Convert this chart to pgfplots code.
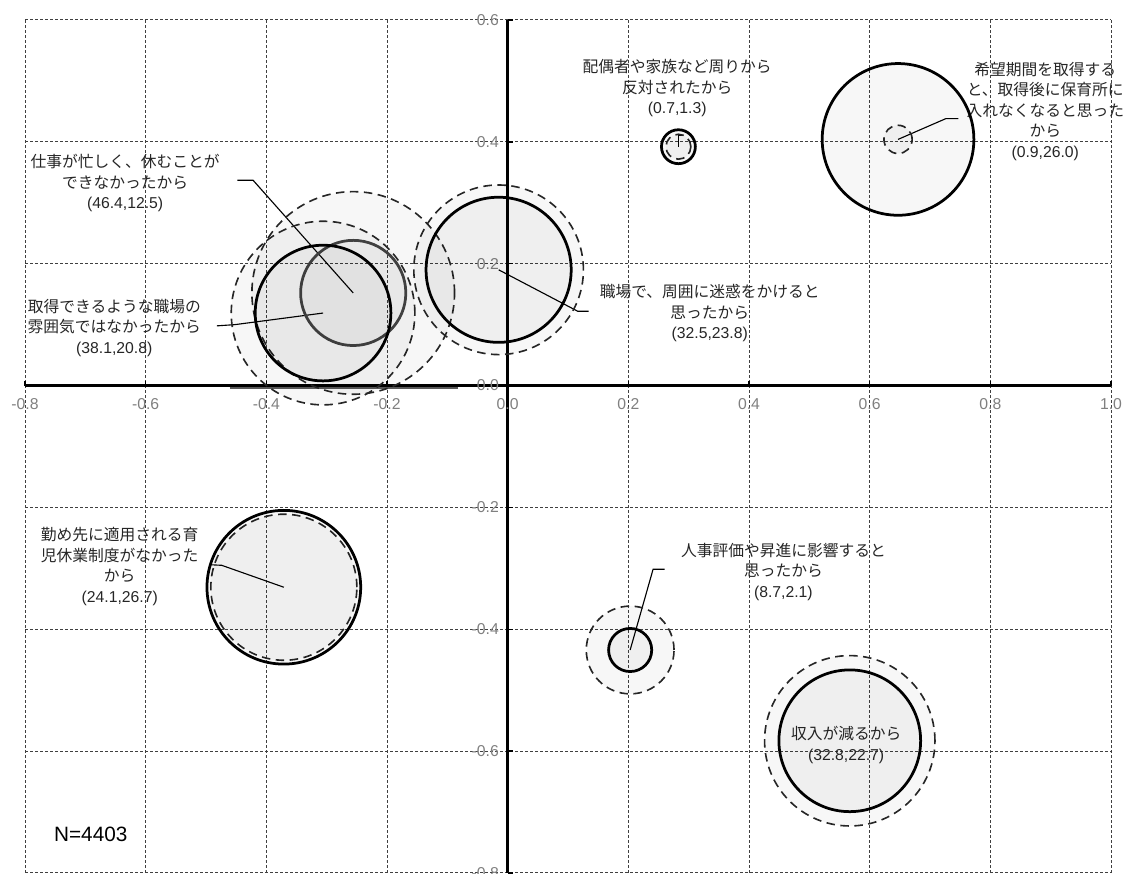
\documentclass[border=0pt]{standalone}
\usepackage{pgfplots}
\usepackage{pgfplotstable}
\pgfplotsset{compat=1.18}
\usepackage{fontspec}
\setmainfont{Liberation Sans}
\newfontfamily\jp{Noto Sans CJK JP}

% solid circle: second value, dashed circle: first value
\pgfplotstableread{
x      y      v
-0.306 0.119  20.8
-0.015 0.190  23.8
0.283  0.392  1.3
0.647  0.404  26.0
-0.371 -0.331 26.7
0.203  -0.434 2.1
0.567  -0.583 22.7
}\solidtab
\pgfplotstableread{
x      y      v
-0.256 0.152  12.5
}\solidgrey
\pgfplotstableread{
x      y      v
-0.256 0.152  46.4
-0.306 0.119  38.1
-0.015 0.190  32.5
0.283  0.392  0.7
0.647  0.404  0.9
-0.371 -0.331 24.1
0.203  -0.434 8.7
0.567  -0.583 32.8
}\dashtab

\pgfplotsset{
  bubble/.style={
    scatter, only marks, mark=*,
    visualization depends on={\thisrow{v} \as \vv},
    scatter/@pre marker code/.code={%
      \pgfmathsetmacro\rr{5.95*sqrt(\vv)}%
      \scope[mark size=\rr pt, draw=#1, fill=black, fill opacity=0.03]},
    scatter/@post marker code/.code={\endscope},
  },
}
\tikzset{
  lbl/.style={align=center, inner sep=0pt, text=black!85,
    font=\fontsize{6.3}{8.2}\selectfont},
}

\begin{document}
\begin{tikzpicture}
\begin{axis}[
  name=ax,
  scale only axis, width=434.4pt, height=341.2pt,
  xmin=-0.8, xmax=1.0, ymin=-0.8, ymax=0.6,
  axis lines=middle,
  axis line style={-, line width=1pt, black},
  xtick={-0.8,-0.6,-0.4,-0.2,0,0.2,0.4,0.6,0.8,1.0},
  ytick={-0.8,-0.6,-0.4,-0.2,0,0.2,0.4,0.6},
  grid=major,
  grid style={black!75, line width=0.4pt, dash pattern=on 1.2pt off 0.8pt},
  tick align=inside,
  major tick length=2pt,
  tick style={black, line width=0.6pt},
  hide obscured x ticks=false, hide obscured y ticks=false,
  ticklabel style={font=\fontsize{6.3}{7}\selectfont, text=black!50},
  xticklabel style={yshift=-1.5pt},
  clip=false,
  /pgf/number format/.cd, fixed, fixed zerofill, precision=1, assume math mode=true,
]
\addplot[bubble=black!85, mark options={line width=0.65pt, dash pattern=on 3.4pt off 2.2pt}] table {\dashtab};
\addplot[bubble=black!75, mark options={line width=1.1pt}] table {\solidgrey};
\addplot[bubble=black, mark options={line width=1.1pt}] table {\solidtab};

\addplot[black!65, line width=0.8pt] coordinates {(-0.461,-0.004) (-0.083,-0.004)};

% leader lines
\addplot[black, line width=0.45pt] coordinates {(-0.448,0.337) (-0.422,0.337) (-0.256,0.152)};
\addplot[black, line width=0.45pt] coordinates {(-0.482,0.098) (-0.452,0.100) (-0.306,0.119)};
\addplot[black, line width=0.45pt] coordinates {(-0.015,0.190) (0.116,0.122) (0.134,0.122)};
\addplot[black, line width=0.45pt] coordinates {(0.283,0.392) (0.283,0.410) (0.290,0.410)};
\addplot[black, line width=0.45pt] coordinates {(0.647,0.404) (0.726,0.438) (0.747,0.438)};
\addplot[black, line width=0.45pt] coordinates {(-0.371,-0.331) (-0.474,-0.295) (-0.495,-0.294)};
\addplot[black, line width=0.45pt] coordinates {(0.203,-0.434) (0.241,-0.3015) (0.260,-0.3015)};

\node[lbl] at (axis cs:-0.634,0.332) {{\jp 仕事が忙しく、休むことが}\\{\jp できなかったから}\\(46.4,12.5)};
\node[lbl] at (axis cs:-0.652,0.095) {{\jp 取得できるような職場の}\\{\jp 雰囲気ではなかったから}\\(38.1,20.8)};
\node[lbl] at (axis cs:0.281,0.488) {{\jp 配偶者や家族など周りから}\\{\jp 反対されたから}\\(0.7,1.3)};
\node[lbl] at (axis cs:0.891,0.450) {{\jp 希望期間を取得する}\\{\jp と、取得後に保育所に}\\{\jp 入れなくなると思った}\\{\jp から}\\(0.9,26.0)};
\node[lbl] at (axis cs:0.335,0.119) {{\jp 職場で、周囲に迷惑をかけると}\\{\jp 思ったから}\\(32.5,23.8)};
\node[lbl] at (axis cs:-0.643,-0.297) {{\jp 勤め先に適用される育}\\{\jp 児休業制度がなかった}\\{\jp から}\\(24.1,26.7)};
\node[lbl] at (axis cs:0.457,-0.306) {{\jp 人事評価や昇進に影響すると}\\{\jp 思ったから}\\(8.7,2.1)};
\node[lbl] at (axis cs:0.561,-0.590) {{\jp 収入が減るから}\\(32.8,22.7)};
\node[inner sep=0pt, text=black, font=\fontsize{8.3}{10}\selectfont] at (axis cs:-0.691,-0.736) {N=4403};
\end{axis}
\pgfresetboundingbox
\path[use as bounding box] ([shift={(-10pt,-0.4pt)}]ax.south west) rectangle ([shift={(6.8pt,8pt)}]ax.north east);
\end{tikzpicture}
\end{document}
